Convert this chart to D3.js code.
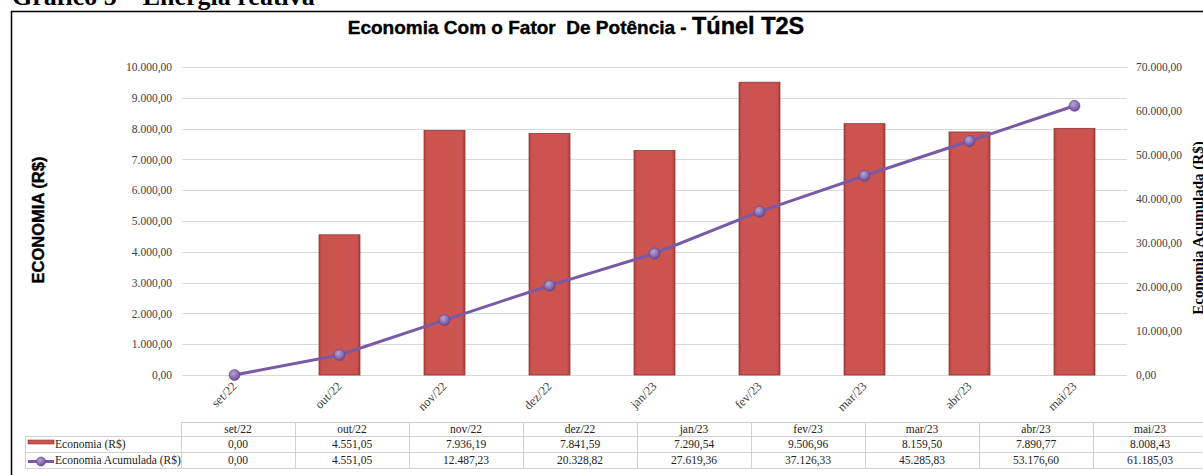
<!DOCTYPE html>
<html>
<head>
<meta charset="utf-8">
<script src="https://cdn.jsdelivr.net/npm/d3@7"></script>
<style>
  body { margin: 0; background: #fff; }
  svg { display: block; }
</style>
</head>
<body>
<div id="chart"></div>
<script>
// data
var months = ["set/22", "out/22", "nov/22", "dez/22", "jan/23", "fev/23", "mar/23", "abr/23", "mai/23"];
var economia = [0, 4551.05, 7936.19, 7841.59, 7290.54, 9506.96, 8159.50, 7890.77, 8008.43];
var acumulada = [0, 4551.05, 12487.23, 20328.82, 27619.36, 37126.33, 45285.83, 53176.60, 61185.03];
var leftTicks = [0, 1000, 2000, 3000, 4000, 5000, 6000, 7000, 8000, 9000, 10000];
var rightTicks = [0, 10000, 20000, 30000, 40000, 50000, 60000, 70000];
var seriesNames = ["Economia (R$)", "Economia Acumulada (R$)"];

var W = 1203, H = 475;
var plot = { left: 182, right: 1127, top: 67, bottom: 375 };

var ptBR = d3.formatLocale({ decimal: ",", thousands: ".", grouping: [3], currency: ["R$", ""] });
var fmt = ptBR.format(",.2f");

var svg = d3.select("#chart").append("svg")
    .attr("width", W)
    .attr("height", H);

var defs = svg.append("defs");
var barGrad = defs.append("linearGradient").attr("id", "barGrad")
    .attr("x1", 0).attr("x2", 1).attr("y1", 0).attr("y2", 0);
barGrad.append("stop").attr("offset", "0%").attr("stop-color", "#b4423f");
barGrad.append("stop").attr("offset", "8%").attr("stop-color", "#cc5450");
barGrad.append("stop").attr("offset", "92%").attr("stop-color", "#cc5450");
barGrad.append("stop").attr("offset", "100%").attr("stop-color", "#a83d3a");
var dotGrad = defs.append("radialGradient").attr("id", "dotGrad")
    .attr("cx", "40%").attr("cy", "35%").attr("r", "65%");
dotGrad.append("stop").attr("offset", "0%").attr("stop-color", "#b9a3d8");
dotGrad.append("stop").attr("offset", "100%").attr("stop-color", "#6a4c96");

// page heading (cut off at the top)
svg.append("text")
    .attr("x", 12).attr("y", 5)
    .style("font-family", "'Liberation Serif', 'Times New Roman', serif")
    .style("font-weight", "bold")
    .style("font-size", "26px")
    .text("Gráfico 5 – Energia reativa");

// frame
svg.append("rect")
    .attr("x", 11.5).attr("y", 11.5)
    .attr("width", W + 10).attr("height", H + 10)
    .attr("fill", "none")
    .attr("stroke", "#000")
    .attr("stroke-width", 1.5);

// title
var title = svg.append("text")
    .attr("x", 576).attr("y", 34)
    .attr("text-anchor", "middle")
    .style("font-family", "'Liberation Sans', Arial, sans-serif")
    .style("font-weight", "bold")
    .attr("stroke", "#000").attr("stroke-width", 0.4);
title.append("tspan").style("font-size", "19px").text("Economia Com o Fator\u00a0\u00a0De Potência - ");
title.append("tspan").style("font-size", "23.5px").text("Túnel T2S");

// scales
var x = d3.scaleBand().domain(months).range([plot.left, plot.right]).paddingInner(0.61).paddingOuter(0.305);
var xc = d3.scalePoint().domain(months).range([plot.left, plot.right]).padding(0.5);
var y = d3.scaleLinear().domain([0, 10000]).range([plot.bottom, plot.top]);
var y2 = d3.scaleLinear().domain([0, 70000]).range([plot.bottom, plot.top]);

// grid
svg.append("g").selectAll("line").data(leftTicks).enter().append("line")
    .attr("x1", plot.left).attr("x2", plot.right)
    .attr("y1", function (d) { return Math.round(y(d)) + 0.5; })
    .attr("y2", function (d) { return Math.round(y(d)) + 0.5; })
    .attr("stroke", "#d9d9d9");

// left axis
var yAxis = svg.append("g")
    .attr("transform", "translate(" + (plot.left - 8) + ",0)")
    .call(d3.axisLeft(y).tickValues(leftTicks).tickFormat(fmt).tickSize(0).tickPadding(2));
yAxis.select(".domain").remove();
yAxis.selectAll("text")
    .style("font-family", "'Liberation Serif', 'Times New Roman', serif")
    .style("font-size", "11.5px")
    .attr("fill", "#404040");

// right axis
var yAxis2 = svg.append("g")
    .attr("transform", "translate(" + (plot.right + 7) + ",0)")
    .call(d3.axisRight(y2).tickValues(rightTicks).tickFormat(fmt).tickSize(0).tickPadding(2));
yAxis2.select(".domain").remove();
yAxis2.selectAll("text")
    .style("font-family", "'Liberation Serif', 'Times New Roman', serif")
    .style("font-size", "11.5px")
    .attr("fill", "#404040");

// axis titles
svg.append("text")
    .attr("transform", "translate(44,220) rotate(-90)")
    .attr("text-anchor", "middle")
    .style("font-family", "'Liberation Sans', Arial, sans-serif")
    .style("font-weight", "bold")
    .style("font-size", "16.5px")
    .attr("stroke", "#000").attr("stroke-width", 0.4)
    .text("ECONOMIA (R$)");

svg.append("text")
    .attr("transform", "translate(1203,228) rotate(-90)")
    .attr("text-anchor", "middle")
    .style("font-family", "'Liberation Serif', 'Times New Roman', serif")
    .style("font-weight", "bold")
    .style("font-size", "15px")
    .text("Economia Acumulada (R$)");

// x axis labels
svg.append("g").selectAll("text").data(months).enter().append("text")
    .attr("transform", function (d) { return "translate(" + (xc(d) + 3) + ",387) rotate(-45)"; })
    .attr("text-anchor", "end")
    .style("font-family", "'Liberation Serif', 'Times New Roman', serif")
    .style("font-size", "12.5px")
    .attr("fill", "#404040")
    .text(function (d) { return d; });

// bars
svg.append("g").selectAll("rect").data(economia).enter().append("rect")
    .attr("x", function (d, i) { return x(months[i]); })
    .attr("width", x.bandwidth())
    .attr("y", function (d) { return y(d); })
    .attr("height", function (d) { return plot.bottom - y(d); })
    .attr("fill", "url(#barGrad)")
    .attr("stroke", "#8e3633")
    .attr("stroke-width", 0.8);

// line
var line = d3.line()
    .x(function (d, i) { return xc(months[i]); })
    .y(function (d) { return y2(d); });

svg.append("path")
    .datum(acumulada)
    .attr("d", line)
    .attr("fill", "none")
    .attr("stroke", "#7a5aa6")
    .attr("stroke-width", 3);

svg.append("g").selectAll("circle").data(acumulada).enter().append("circle")
    .attr("cx", function (d, i) { return xc(months[i]); })
    .attr("cy", function (d) { return y2(d); })
    .attr("r", 5.5)
    .attr("fill", "url(#dotGrad)")
    .attr("stroke", "#5e4488")
    .attr("stroke-width", 0.6);

// data table
var tbl = { left: 25, colLeft: 181, right: 1207, rows: [422, 435.5, 452, 468] };
var tx = d3.scaleBand().domain(months).range([tbl.colLeft, tbl.right]);
var table = svg.append("g");
var gridCol = "#d0d0d0";

// horizontal lines
table.append("line").attr("x1", tbl.colLeft).attr("x2", tbl.right)
    .attr("y1", tbl.rows[0] + 0.5).attr("y2", tbl.rows[0] + 0.5).attr("stroke", gridCol);
table.selectAll(".hl").data(tbl.rows.slice(1)).enter().append("line")
    .attr("x1", tbl.left).attr("x2", tbl.right)
    .attr("y1", function (d) { return Math.round(d) + 0.5; })
    .attr("y2", function (d) { return Math.round(d) + 0.5; })
    .attr("stroke", gridCol);
// vertical lines
table.selectAll(".vl").data(months).enter().append("line")
    .attr("x1", function (d) { return Math.round(tx(d)) + 0.5; })
    .attr("x2", function (d) { return Math.round(tx(d)) + 0.5; })
    .attr("y1", tbl.rows[0]).attr("y2", tbl.rows[3])
    .attr("stroke", gridCol);
table.append("line")
    .attr("x1", tbl.left + 0.5).attr("x2", tbl.left + 0.5)
    .attr("y1", tbl.rows[1]).attr("y2", tbl.rows[3])
    .attr("stroke", gridCol);

var cellFont = function (s) {
    return s.style("font-family", "'Liberation Serif', 'Times New Roman', serif")
        .style("font-size", "11.5px")
        .attr("fill", "#222");
};

cellFont(table.selectAll(".hdr").data(months).enter().append("text")
    .attr("x", function (d) { return tx(d) + tx.bandwidth() / 2; })
    .attr("y", tbl.rows[1] - 3)
    .attr("text-anchor", "middle")
    .text(function (d) { return d; }));

[economia, acumulada].forEach(function (vals, r) {
    cellFont(table.append("g").selectAll("text").data(vals).enter().append("text")
        .attr("x", function (d, i) { return tx(months[i]) + tx.bandwidth() / 2; })
        .attr("y", tbl.rows[r + 2] - 4)
        .attr("text-anchor", "middle")
        .text(function (d) { return fmt(d); }));
    cellFont(table.append("text")
        .attr("x", 55)
        .attr("y", tbl.rows[r + 2] - 4)
        .text(seriesNames[r]));
});

// legend keys
table.append("rect")
    .attr("x", 28).attr("y", 440).attr("width", 26).attr("height", 4)
    .attr("fill", "url(#barGrad)")
    .attr("stroke", "#8e3633").attr("stroke-width", 0.6);
table.append("line")
    .attr("x1", 28).attr("x2", 54).attr("y1", 461.5).attr("y2", 461.5)
    .attr("stroke", "#7a5aa6").attr("stroke-width", 3);
table.append("circle")
    .attr("cx", 41).attr("cy", 461.5).attr("r", 4.5)
    .attr("fill", "url(#dotGrad)")
    .attr("stroke", "#5e4488").attr("stroke-width", 0.6);
</script>
</body>
</html>
